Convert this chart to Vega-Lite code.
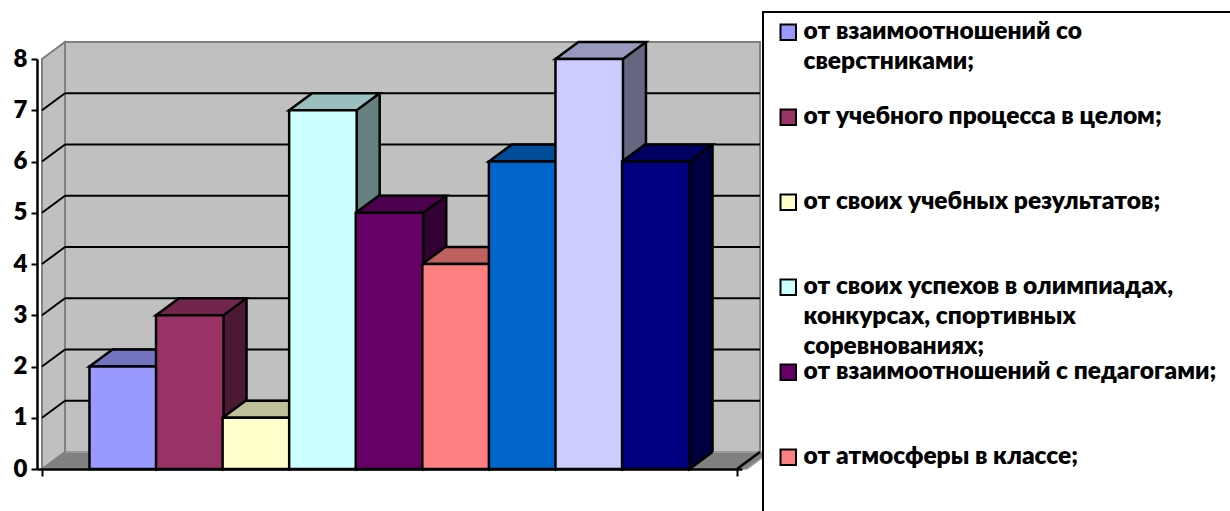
{
  "$schema": "https://vega.github.io/schema/vega-lite/v6.json",
  "width": 705,
  "height": 410,
  "autosize": "none",
  "padding": {"left": 37, "top": 59, "right": 488, "bottom": 42},
  "background": "white",
  "config": {
    "view": {"stroke": null},
    "style": {"guide-label": {"lineHeight": 30}},
    "legend": {"strokeWidth": 2}
  },
  "data": {
    "values": [
      {"n": 1, "series": "от взаимоотношений со сверстниками;", "value": 2},
      {"n": 2, "series": "от учебного процесса в целом;", "value": 3},
      {"n": 3, "series": "от своих учебных результатов;", "value": 1},
      {"n": 4, "series": "от своих успехов в олимпиадах, конкурсах, спортивных соревнованиях;", "value": 7},
      {"n": 5, "series": "от взаимоотношений с педагогами;", "value": 5},
      {"n": 6, "series": "от атмосферы в классе;", "value": 4},
      {"n": 7, "series": "от взаимоотношений с родителями и родственниками;", "value": 6},
      {"n": 8, "series": "от внеурочной деятельности;", "value": 8},
      {"n": 9, "series": "от школы в целом;", "value": 6}
    ]
  },
  "resolve": {"scale": {"color": "independent"}},
  "layer": [
    {
      "data": {"values": [{"k": 0}]},
      "mark": {"type": "rect", "fill": "#C0C0C0", "stroke": "#808080", "strokeWidth": 2, "xOffset": 23, "x2Offset": 23, "yOffset": -17, "y2Offset": -17},
      "encoding": {
        "x": {"datum": -0.22, "type": "quantitative", "title": null},
        "x2": {"datum": 10.22},
        "y": {"datum": 8, "type": "quantitative", "title": null},
        "y2": {"datum": 0}
      }
    },
    {
      "data": {"values": [{"k": 0}]},
      "mark": {"type": "point", "shape": "M0,0 L23,-17 L728,-17 L705,0 Z", "size": 4, "filled": true, "fill": "#808080", "stroke": "#A0A0A0", "strokeWidth": 1.5, "opacity": 1},
      "encoding": {
        "x": {"datum": -0.22, "type": "quantitative", "title": null},
        "y": {"datum": 0, "type": "quantitative", "title": null}
      }
    },
    {
      "data": {"values": [{"k": 0}]},
      "mark": {"type": "point", "shape": "M0,0 L23,-17", "size": 4, "filled": false, "stroke": "black", "strokeWidth": 2.5, "opacity": 1},
      "encoding": {
        "x": {"datum": 10.22, "type": "quantitative", "title": null},
        "y": {"datum": 0, "type": "quantitative", "title": null}
      }
    },
    {
      "data": {"values": [{"k": 0}]},
      "mark": {"type": "point", "shape": "M0,0 L23,-17 L23,-427 L0,-410 Z", "size": 4, "filled": true, "fill": "#C0C0C0", "stroke": "#808080", "strokeWidth": 2, "opacity": 1},
      "encoding": {
        "x": {"datum": -0.22, "type": "quantitative", "title": null},
        "y": {"datum": 0, "type": "quantitative", "title": null}
      }
    },
    {
      "data": {"values": [{"v": 1}, {"v": 2}, {"v": 3}, {"v": 4}, {"v": 5}, {"v": 6}, {"v": 7}]},
      "mark": {"type": "rule", "stroke": "black", "strokeWidth": 2, "xOffset": 23, "x2Offset": 23, "yOffset": -17},
      "encoding": {
        "x": {"datum": -0.22, "type": "quantitative", "title": null},
        "x2": {"datum": 10.22},
        "y": {"field": "v", "type": "quantitative", "title": null}
      }
    },
    {
      "data": {"values": [{"v": 1}, {"v": 2}, {"v": 3}, {"v": 4}, {"v": 5}, {"v": 6}, {"v": 7}]},
      "mark": {"type": "point", "shape": "M0,0 L23,-17", "size": 4, "filled": false, "stroke": "black", "strokeWidth": 2, "opacity": 1},
      "encoding": {
        "x": {"datum": -0.22, "type": "quantitative", "title": null},
        "y": {"field": "v", "type": "quantitative", "title": null}
      }
    },
    {
      "mark": {"type": "bar", "width": 23, "xOffset": 45.25, "yOffset": -17, "y2Offset": -17, "opacity": 1},
      "encoding": {
        "x": {"field": "n", "type": "quantitative", "title": null},
        "y": {"field": "value", "type": "quantitative", "title": null},
        "y2": {"datum": 0},
        "color": {"field": "n", "type": "nominal", "legend": null,
          "scale": {"domain": [1, 2, 3, 4, 5, 6, 7, 8, 9], "range": ["#4D4D80", "#4D1A33", "#808066", "#668080", "#330033", "#804040", "#003366", "#666680", "#000040"]}}
      }
    },
    {
      "mark": {"type": "point", "shape": "M33.75,-17 L33.75,0 L56.75,-17", "size": 4, "filled": true, "stroke": "black", "strokeWidth": 2.5, "opacity": 1},
      "encoding": {
        "x": {"field": "n", "type": "quantitative", "title": null},
        "y": {"datum": 0, "type": "quantitative", "title": null},
        "color": {"field": "n", "type": "nominal", "legend": null,
          "scale": {"domain": [1, 2, 3, 4, 5, 6, 7, 8, 9], "range": ["#4D4D80", "#4D1A33", "#808066", "#668080", "#330033", "#804040", "#003366", "#666680", "#000040"]}}
      }
    },
    {
      "mark": {"type": "rule", "stroke": "black", "strokeWidth": 2.5, "xOffset": 56.75, "yOffset": -17, "y2Offset": -17},
      "encoding": {
        "x": {"field": "n", "type": "quantitative", "title": null},
        "y": {"field": "value", "type": "quantitative", "title": null},
        "y2": {"datum": 0}
      }
    },
    {
      "mark": {"type": "point", "shape": "M-33.75,0 L33.75,0 L56.75,-17 L-10.75,-17 Z", "size": 4, "filled": true, "stroke": "black", "strokeWidth": 2.5, "opacity": 1},
      "encoding": {
        "x": {"field": "n", "type": "quantitative", "title": null},
        "y": {"field": "value", "type": "quantitative", "title": null},
        "color": {"field": "n", "type": "nominal", "legend": null,
          "scale": {"domain": [1, 2, 3, 4, 5, 6, 7, 8, 9], "range": ["#7373BF", "#73264D", "#BFBF99", "#99BFBF", "#4D004D", "#BF6060", "#004D99", "#9999BF", "#000060"]}}
      }
    },
    {
      "mark": {"type": "bar", "width": 67.5, "stroke": "black", "strokeWidth": 2.5, "opacity": 1},
      "encoding": {
        "x": {"field": "n", "type": "quantitative",
          "scale": {"domain": [-0.22, 10.22], "nice": false, "zero": false},
          "axis": {"values": [-0.22, 10.22], "labels": false, "tickSize": 7, "tickColor": "black", "tickWidth": 2, "domainColor": "black", "domainWidth": 2.5, "grid": false, "title": null, "zindex": 1}},
        "y": {"field": "value", "type": "quantitative",
          "scale": {"domain": [0, 8], "nice": false},
          "axis": {"values": [0, 1, 2, 3, 4, 5, 6, 7, 8], "tickSize": 6, "tickColor": "black", "tickWidth": 2, "domainColor": "black", "domainWidth": 2.5, "labelFont": "Lato", "labelFontWeight": 800, "labelFontSize": 24, "labelColor": "black", "labelPadding": 4, "grid": false, "title": null, "zindex": 1}},
        "color": {"field": "series", "type": "nominal",
          "scale": {
            "domain": ["от взаимоотношений со сверстниками;", "от учебного процесса в целом;", "от своих учебных результатов;", "от своих успехов в олимпиадах, конкурсах, спортивных соревнованиях;", "от взаимоотношений с педагогами;", "от атмосферы в классе;", "от взаимоотношений с родителями и родственниками;", "от внеурочной деятельности;", "от школы в целом;"],
            "range": ["#9999FF", "#993366", "#FFFFCC", "#CCFFFF", "#660066", "#FF8080", "#0066CC", "#CCCCFF", "#000080"]},
          "legend": {
            "orient": "none", "legendX": 726, "legendY": -47, "title": null,
            "symbolType": "square", "symbolSize": 240, "symbolStrokeColor": "black", "symbolStrokeWidth": 2, "symbolOpacity": 1, "symbolOffset": 5,
            "labelFont": "Lato", "labelFontWeight": 800, "labelFontSize": 24.5, "labelColor": "black", "labelLimit": 800, "labelOffset": 3,
            "padding": 8, "rowPadding": 0, "gridAlign": "all",
            "strokeColor": "black", "fillColor": "white",
            "labelExpr": "datum.label == 'от взаимоотношений со сверстниками;' ? ['от взаимоотношений со', 'сверстниками;'] : datum.label == 'от своих успехов в олимпиадах, конкурсах, спортивных соревнованиях;' ? ['от своих успехов в олимпиадах,', 'конкурсах, спортивных', 'соревнованиях;'] : datum.label"
          }
        }
      }
    }
  ]
}
